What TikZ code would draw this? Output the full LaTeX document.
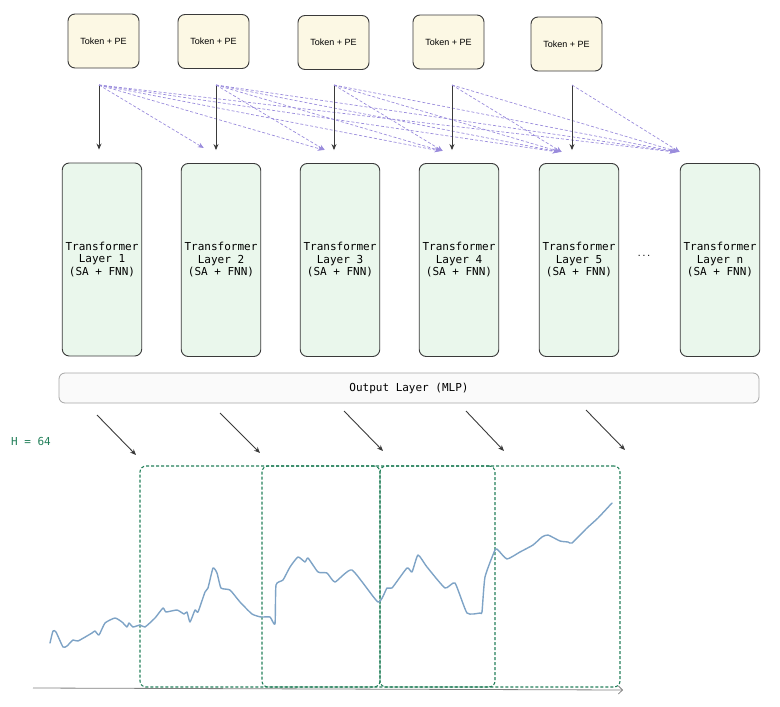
\documentclass[tikz,border=0pt]{standalone}
\usepackage{fontspec}
\setmainfont{Liberation Sans}
\setmonofont{DejaVu Sans Mono}
\usetikzlibrary{arrows.meta}

\definecolor{tokenfill}{HTML}{FCF8E4}
\definecolor{layerfill}{HTML}{EAF7EC}
\definecolor{boxline}{HTML}{3A3A3A}
\definecolor{attn}{HTML}{9A8CDC}
\definecolor{wingreen}{HTML}{23805A}
\definecolor{series}{HTML}{7EA3C6}

\tikzset{
  token/.style = {draw=boxline, fill=tokenfill, rounded corners=7pt, line width=0.9pt,
    minimum width=71pt, minimum height=54pt, font=\fontsize{9}{10}\selectfont},
  layer/.style = {draw=boxline, fill=layerfill, rounded corners=7pt, line width=0.9pt,
    minimum width=78pt, minimum height=193pt, align=center,
    font=\ttfamily\fontsize{11}{12.5}\selectfont},
  feed/.style = {draw=boxline, line width=0.9pt, -{Stealth[length=6pt,width=5pt]}},
  attend/.style = {draw=attn, line width=0.7pt, dash pattern=on 3pt off 2pt,
    -{Stealth[length=6pt,width=5pt]}},
  window/.style = {draw=wingreen, line width=1.1pt, dash pattern=on 3pt off 2pt,
    rounded corners=6pt, minimum height=221pt, inner sep=0pt},
}

\begin{document}
\begin{tikzpicture}[x=1pt, y=-1pt]
        \useasboundingbox (0,0) rectangle (780,707);

        % inputs
        \node[token] (tok1) at (103.5,41) {Token + PE};
        \node[token] (tok2) at (213.5,41.5) {Token + PE};
        \node[token] (tok3) at (333.5,42.5) {Token + PE};
        \node[token] (tok4) at (448.5,42) {Token + PE};
        \node[token] (tok5) at (566.5,44) {Token + PE};

        % layers
        \node[layer] (lay1) at (102,259.5) {Transformer\\Layer 1\\(SA + FNN)};
        \node[layer] (lay2) at (221,260) {Transformer\\Layer 2\\(SA + FNN)};
        \node[layer] (lay3) at (340,260) {Transformer\\Layer 3\\(SA + FNN)};
        \node[layer] (lay4) at (459,260) {Transformer\\Layer 4\\(SA + FNN)};
        \node[layer] (lay5) at (579,260) {Transformer\\Layer 5\\(SA + FNN)};
        \node[layer] (lay6) at (720,260) {Transformer\\Layer n\\(SA + FNN)};
        \node[font=\ttfamily\fontsize{8}{9}\selectfont] (dots) at (644,256) {...};

        \node[draw=gray!70, fill=gray!4, rounded corners=6pt, line width=0.8pt,
              minimum width=700pt, minimum height=30pt,
              font=\ttfamily\fontsize{11}{12}\selectfont] (out) at (409,388) {Output Layer (MLP)};

        % ports
        \coordinate (p1) at (99,85);
        \coordinate (p2) at (216,85);
        \coordinate (p3) at (334,85);
        \coordinate (p4) at (452,85);
        \coordinate (p5) at (572,85);
        \coordinate (in2) at (205,148);
        \coordinate (in3) at (326,150);
        \coordinate (in4) at (444,151);
        \coordinate (in5) at (563,152);
        \coordinate (in6) at (681,152);

        \foreach \i in {1,...,5} {
            \draw[feed, shorten >=13pt] (p\i) -- (p\i |- lay\i.north);
            \pgfmathtruncatemacro\first{\i+1}
            \foreach \j in {\first,...,6}
                \draw[attend] (p\i) -- ([xshift={(\i-\j)*1.2pt}]in\j);
        }

        % windows
        \node[text=wingreen, font=\ttfamily\fontsize{11}{12}\selectfont] (hlabel) at (31,441) {H = 64};
        \node[window, minimum width=240pt] (win1) at (260,576.5) {};
        \node[window, minimum width=233pt] (win2) at (378.5,576.5) {};
        \node[window, minimum width=240pt] (win3) at (500,576.5) {};

        \coordinate (o1) at (97,415);   \coordinate (w1) at (136,455);
        \coordinate (o2) at (220,413);  \coordinate (w2) at (260,453);
        \coordinate (o3) at (344,411);  \coordinate (w3) at (383,451);
        \coordinate (o4) at (466,411);  \coordinate (w4) at (504,451);
        \coordinate (o5) at (586,410);  \coordinate (w5) at (625,450);
        \foreach \k in {1,...,5}
            \draw[feed] (o\k) -- (w\k);

        % series
        \coordinate (ax0) at (33,688);
        \coordinate (ax1) at (623,690);
        \draw[gray, line width=0.8pt, -{Straight Barb[length=4pt]}] (ax0) -- (ax1);

        \draw[series, line width=1.4pt, line join=round, line cap=round]
            plot[smooth, tension=0.3] coordinates {
            (50,643) (53,631) (56,632) (63,647) (67,646) (73,640) (78,641) (92,633)
            (95,631) (99,635) (105,623) (115,618) (122,622) (127,627) (129,623)
            (133,627) (140,625) (145,627) (155,618) (163,608) (166,612) (177,610)
            (184,614) (187,612) (190,622) (195,610) (198,612) (205,592) (208,588)
            (213,568) (217,573) (221,588) (230,590) (240,602) (252,614) (261,617)
            (270,617) (275,624) (276,585) (283,580) (290,567) (298,557) (305,562)
            (308,558) (318,572) (327,573) (335,582) (352,570) (378,602) (387,588)
            (392,588) (407,568) (412,572) (418,555) (427,567) (445,588) (455,583)
            (467,613) (480,613) (482,612) (485,577) (495,550) (498,550) (507,559)
            (520,552) (533,545) (542,537) (548,535) (560,541) (568,542) (572,543)
            (587,528) (598,518) (612,503)};
    \end{tikzpicture}
\end{document}
